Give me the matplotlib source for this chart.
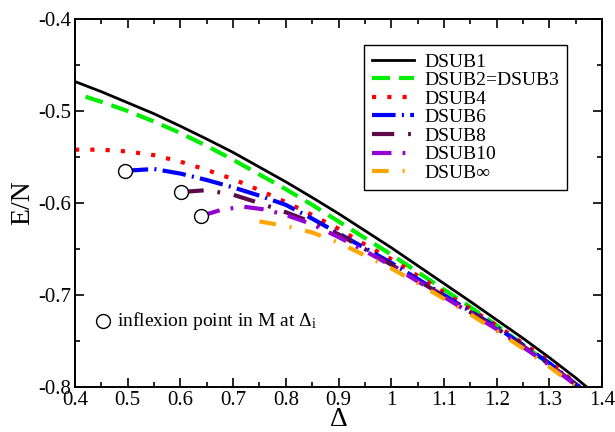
import matplotlib
matplotlib.use("Agg")
import matplotlib.pyplot as plt
from matplotlib.ticker import MultipleLocator, FormatStrFormatter

plt.rcParams["font.family"] = ["Liberation Serif", "DejaVu Serif"]
plt.rcParams["mathtext.fontset"] = "custom"
plt.rcParams["mathtext.rm"] = "Liberation Serif"
plt.rcParams["mathtext.it"] = "Liberation Serif:italic"
plt.rcParams["axes.unicode_minus"] = False
plt.rcParams["lines.scale_dashes"] = False

# data
x1 = [0.4, 0.45, 0.5, 0.55, 0.6, 0.65, 0.7, 0.75, 0.8, 0.85, 0.9, 0.95, 1.0,
      1.05, 1.1, 1.15, 1.2, 1.25, 1.3, 1.35, 1.371]
e1 = [-0.468, -0.479, -0.491, -0.503, -0.5165, -0.5305, -0.545, -0.561, -0.577, -0.594,
      -0.6115, -0.630, -0.6485, -0.668, -0.6875, -0.707, -0.727, -0.747, -0.768, -0.790,
      -0.800]

x2 = [0.42, 0.45, 0.5, 0.55, 0.6, 0.65, 0.7, 0.75, 0.8, 0.85, 0.9, 0.95, 1.0,
      1.05, 1.1, 1.15, 1.2, 1.25, 1.3, 1.35, 1.357]
e2 = [-0.4845, -0.490, -0.500, -0.5115, -0.524, -0.538, -0.553, -0.569, -0.585, -0.602,
      -0.620, -0.638, -0.656, -0.675, -0.694, -0.713, -0.733, -0.754, -0.775, -0.797,
      -0.800]

x4 = [0.4, 0.45, 0.5, 0.55, 0.6, 0.65, 0.7, 0.75, 0.8, 0.85, 0.9, 0.95, 1.0, 1.1, 1.2, 1.3, 1.358]
e4 = [-0.542, -0.542, -0.544, -0.548, -0.555, -0.564, -0.574, -0.586, -0.599, -0.613,
      -0.628, -0.645, -0.661, -0.697, -0.733, -0.772, -0.800]

x6 = [0.494, 0.55, 0.6, 0.65, 0.7, 0.75, 0.8, 0.85, 0.9, 0.95, 1.0, 1.1, 1.2, 1.3, 1.357]
e6 = [-0.565, -0.563, -0.568, -0.575, -0.583, -0.592, -0.602, -0.617, -0.633, -0.649,
      -0.665, -0.700, -0.735, -0.774, -0.800]

x8 = [0.602, 0.65, 0.7, 0.75, 0.8, 0.85, 0.9, 0.95, 1.0, 1.1, 1.2, 1.3, 1.356]
e8 = [-0.588, -0.586, -0.591, -0.600, -0.610, -0.621, -0.634, -0.650, -0.667, -0.701,
      -0.736, -0.775, -0.800]

x10 = [0.639, 0.68, 0.72, 0.76, 0.8, 0.85, 0.9, 0.95, 1.0, 1.1, 1.2, 1.3, 1.355]
e10 = [-0.614, -0.607, -0.604, -0.607, -0.613, -0.623, -0.637, -0.652, -0.668, -0.702,
       -0.737, -0.776, -0.800]

xinf = [0.75, 0.8, 0.85, 0.9, 0.95, 1.0, 1.05, 1.1, 1.15, 1.2, 1.25, 1.3, 1.352]
einf = [-0.620, -0.625, -0.632, -0.643, -0.657, -0.671, -0.687, -0.704, -0.721, -0.739,
        -0.758, -0.778, -0.800]

# inflexion points
xi = [0.494, 0.602, 0.639]
ei = [-0.565, -0.588, -0.614]

fig = plt.figure(figsize=(6.15, 4.32), dpi=100)
ax = fig.add_axes([0.122, 0.104, 0.857, 0.852])

ax.plot(x1, e1, color="black", lw=2, label="DSUB1")
ax.plot(x2, e2, color="#00ee00", lw=3, ls=(0, (13, 6.5)), label="DSUB2=DSUB3")
ax.plot(x4, e4, color="red", lw=3, ls=(0, (3, 8)), label="DSUB4")
ax.plot(x6, e6, color="blue", lw=3, ls=(0, (17, 4.5, 1.5, 4.5)), label="DSUB6")
ax.plot(x8, e8, color="#5c0a4a", lw=3, ls=(0, (16, 10, 2, 10)), label="DSUB8")
ax.plot(x10, e10, color="#9400d3", lw=3, ls=(0, (14, 8, 2, 8)), label="DSUB10")
ax.plot(xinf, einf, color="orange", lw=3, ls=(0, (12, 10, 1.5, 10)), label="DSUB∞")

ax.plot(xi, ei, ls="none", marker="o", ms=10, mfc="white", mec="black", mew=1)

ax.plot([0.453], [-0.728], ls="none", marker="o", ms=10, mfc="white", mec="black", mew=1)
ax.text(0.48, -0.728, r"inflexion point in M at $\Delta_\mathrm{i}$", fontsize=14,
        va="center", ha="left")

ax.set_xlim(0.4, 1.4)
ax.set_ylim(-0.8, -0.4)
ax.xaxis.set_major_locator(MultipleLocator(0.1))
ax.xaxis.set_minor_locator(MultipleLocator(0.05))
ax.yaxis.set_major_locator(MultipleLocator(0.1))
ax.yaxis.set_minor_locator(MultipleLocator(0.05))
ax.xaxis.set_major_formatter(FormatStrFormatter("%g"))
ax.yaxis.set_major_formatter(FormatStrFormatter("%g"))
ax.tick_params(which="both", direction="in", top=True, right=True, labelsize=15, width=1.2)
ax.tick_params(which="major", length=6.5, pad=3)
ax.tick_params(which="minor", length=3.5)
for s in ax.spines.values():
    s.set_linewidth(1.4)

ax.set_xlabel("Δ", fontsize=20, labelpad=-2)
ax.set_ylabel("E/N", fontsize=20, labelpad=2)

leg = ax.legend(loc="upper left", bbox_to_anchor=(0.548, 0.929), borderaxespad=0,
                fontsize=14, handlelength=2.2, labelspacing=0.05, fancybox=False,
                edgecolor="black", framealpha=1, handletextpad=0.5, borderpad=0.4)
leg.get_frame().set_linewidth(1.0)

fig.savefig("out.png", dpi=100)
plt.close()
